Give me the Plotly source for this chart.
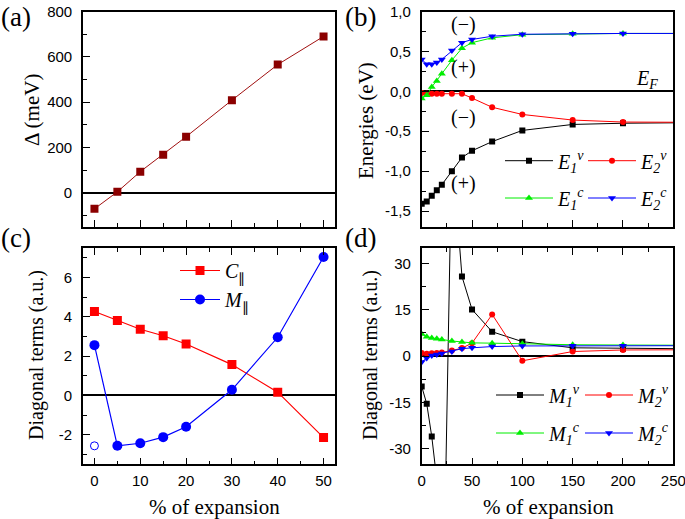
import plotly.graph_objects as go

W, H = 685, 519

# ---------------- data ----------------
# (a) gap vs expansion
a_x = [0, 5, 10, 15, 20, 30, 40, 50]
a_delta = [-70, 5, 94, 169, 248, 409, 566, 690]

# (b) energies
b_x = [0, 5, 10, 15, 20, 30, 40, 50, 70, 100, 150, 200, 300]
E1v = [-1.41, -1.38, -1.31, -1.24, -1.17, -1.0, -0.83, -0.745, -0.63, -0.49, -0.415, -0.40, -0.39]
E2v = [-0.02, -0.03, -0.03, -0.03, -0.03, -0.03, -0.03, -0.085, -0.20, -0.29, -0.36, -0.385, -0.39]
E1c = [-0.09, -0.05, 0.054, 0.13, 0.22, 0.39, 0.54, 0.61, 0.67, 0.71, 0.72, 0.725, 0.725]
E2c = [0.40, 0.34, 0.34, 0.36, 0.40, 0.51, 0.61, 0.65, 0.69, 0.715, 0.72, 0.725, 0.725]

# (c) diagonal terms
c_x = [0, 5, 10, 15, 20, 30, 40, 50]
C_par = [4.27, 3.81, 3.37, 3.04, 2.62, 1.57, 0.17, -2.14]
M_par = [2.56, -2.56, -2.43, -2.12, -1.59, 0.29, 2.96, 7.04]
M_open_x = [0]
M_open_y = [-2.56]

# (d) diagonal terms
d_x = [0, 5, 10, 15, 20, 30, 40, 50, 70, 100, 150, 200, 300]
M1v = [-9.8, -15.4, -26.0, -40.0, -107.0, 68.0, 25.8, 15.1, 7.9, 4.7, 2.7, 2.4, 2.3]
M2v = [1.0, 0.8, 0.9, 1.0, 1.2, 1.8, 2.6, 4.2, 13.5, -1.5, 1.5, 2.0, 2.1]
M1c = [7.2, 6.3, 5.9, 5.6, 5.4, 4.9, 4.6, 4.3, 4.2, 4.0, 3.7, 3.6, 3.5]
M2c = [-1.9, -0.6, 0.2, 0.55, 0.85, 1.5, 2.4, 2.7, 3.1, 3.3, 3.35, 3.4, 3.4]

# tick labels
a_yticks = [0, 200, 400, 600, 800]
a_yticktext = ["0", "200", "400", "600", "800"]
b_yticks = [-1.5, -1.0, -0.5, 0.0, 0.5, 1.0]
b_yticktext = ["-1,5", "-1,0", "-0,5", "0,0", "0,5", "1,0"]
c_xticks = [0, 10, 20, 30, 40, 50]
c_xticktext = ["0", "10", "20", "30", "40", "50"]
c_yticks = [-2, 0, 2, 4, 6]
c_yticktext = ["-2", "0", "2", "4", "6"]
d_xticks = [0, 50, 100, 150, 200, 250]
d_xticktext = ["0", "50", "100", "150", "200", "250"]
d_yticks = [-30, -15, 0, 15, 30]
d_yticktext = ["-30", "-15", "0", "15", "30"]


def px(p):
    return p / W


def py(p):
    return 1 - p / H


SERIF = "Liberation Serif"
SANS = "Liberation Sans"

fig = go.Figure()

# (a)
fig.add_trace(go.Scatter(x=a_x, y=a_delta, mode="lines+markers", xaxis="x", yaxis="y",
                         line=dict(color="#a01010", width=1),
                         marker=dict(symbol="square", size=8, color="#8b0000"),
                         showlegend=False))

# (b)
b_specs = [
    (E1v, "#000000", "square", 6, "<i>E</i><sub><i>1</i></sub><sup><i>v</i></sup>", "legend"),
    (E2v, "#ff0000", "circle", 6, "<i>E</i><sub><i>2</i></sub><sup><i>v</i></sup>", "legend2"),
    (E1c, "#00ee00", "triangle-up", 7, "<i>E</i><sub><i>1</i></sub><sup><i>c</i></sup>", "legend3"),
    (E2c, "#0000ff", "triangle-down", 7, "<i>E</i><sub><i>2</i></sub><sup><i>c</i></sup>", "legend4"),
]
for ys, col, sym, sz, name, lg in b_specs:
    fig.add_trace(go.Scatter(x=b_x, y=ys, mode="lines+markers", xaxis="x2", yaxis="y2",
                             line=dict(color=col, width=1), marker=dict(symbol=sym, size=sz, color=col),
                             name=name, legend=lg))

# (c)
fig.add_trace(go.Scatter(x=c_x, y=C_par, mode="lines+markers", xaxis="x3", yaxis="y3",
                         line=dict(color="#ff0000", width=1.2),
                         marker=dict(symbol="square", size=9, color="#ff0000"),
                         name="<i>C</i><sub>∥</sub>", legend="legend5"))
fig.add_trace(go.Scatter(x=c_x, y=M_par, mode="lines+markers", xaxis="x3", yaxis="y3",
                         line=dict(color="#0000ff", width=1.2),
                         marker=dict(symbol="circle", size=10, color="#0000ff"),
                         name="<i>M</i><sub>∥</sub>", legend="legend5"))
fig.add_trace(go.Scatter(x=M_open_x, y=M_open_y, mode="markers", xaxis="x3", yaxis="y3",
                         marker=dict(symbol="circle-open", size=8, color="#0000ff", line=dict(width=1)),
                         showlegend=False))

# (d)
d_specs = [
    (M1v, "#000000", "square", 6, "<i>M</i><sub><i>1</i></sub><sup><i>v</i></sup>", "legend6"),
    (M2v, "#ff0000", "circle", 6, "<i>M</i><sub><i>2</i></sub><sup><i>v</i></sup>", "legend7"),
    (M1c, "#00ee00", "triangle-up", 7, "<i>M</i><sub><i>1</i></sub><sup><i>c</i></sup>", "legend8"),
    (M2c, "#0000ff", "triangle-down", 7, "<i>M</i><sub><i>2</i></sub><sup><i>c</i></sup>", "legend9"),
]
for ys, col, sym, sz, name, lg in d_specs:
    fig.add_trace(go.Scatter(x=d_x, y=ys, mode="lines+markers", xaxis="x4", yaxis="y4",
                             line=dict(color=col, width=1), marker=dict(symbol=sym, size=sz, color=col),
                             name=name, legend=lg))

xa_dom = [px(83), px(335)]
xb_dom = [px(421.7), px(673.3)]
top_dom = [py(227), py(11.5)]
bot_dom = [py(464.3), py(248)]

tickfont = dict(family=SANS, size=15, color="black")


def axis(domain, rng, tickvals, ticktext, minor_dtick, mirror, show_labels=True, zeroline=False,
         anchor=None, standoff=2):
    d = dict(domain=domain, range=rng, tickmode="array", tickvals=tickvals, ticktext=ticktext,
             ticks="inside", ticklen=7, tickwidth=1.2, tickcolor="black",
             minor=dict(dtick=minor_dtick, ticks="inside", ticklen=4, tickwidth=1.2, tickcolor="black"),
             showline=True, linecolor="black", linewidth=1.6, mirror=mirror,
             showgrid=False, zeroline=zeroline, zerolinecolor="black", zerolinewidth=1.6,
             showticklabels=show_labels, tickfont=tickfont, fixedrange=True, automargin=False,
             ticklabelstandoff=standoff, ticklabeloverflow="allow")
    if anchor:
        d["anchor"] = anchor
    return d


fig.update_layout(
    width=W, height=H, margin=dict(l=0, r=0, t=0, b=0, autoexpand=False),
    paper_bgcolor="white", plot_bgcolor="white",
    xaxis=axis(xa_dom, [-2.5, 52.5], c_xticks, c_xticktext, 5, True, show_labels=False, anchor="y"),
    yaxis=axis(top_dom, [-150, 800], a_yticks, a_yticktext, 100, True, zeroline=True, anchor="x", standoff=6),
    xaxis2=axis(xb_dom, [0, 250], d_xticks, d_xticktext, 25, True, show_labels=False, anchor="y2"),
    yaxis2=axis(top_dom, [-1.7, 1.0], b_yticks, b_yticktext, 0.25, True, zeroline=True, anchor="x2", standoff=6),
    xaxis3=axis(xa_dom, [-2.5, 52.5], c_xticks, c_xticktext, 5, "ticks", anchor="y3"),
    yaxis3=axis(bot_dom, [-3.5, 7.5], c_yticks, c_yticktext, 1, True, zeroline=True, anchor="x3", standoff=6),
    xaxis4=axis(xb_dom, [0, 250], d_xticks, d_xticktext, 25, "ticks", anchor="y4"),
    yaxis4=axis(bot_dom, [-35, 35], d_yticks, d_yticktext, 7.5, True, zeroline=True, anchor="x4", standoff=6),
)

legfont = dict(family=SERIF, size=20, color="black")
common_leg = dict(orientation="h", bgcolor="rgba(0,0,0,0)", font=legfont, xanchor="left", yanchor="middle",
                  itemwidth=48, tracegroupgap=0)
fig.update_layout(
    legend=dict(x=px(500), y=py(160.7), **common_leg),
    legend2=dict(x=px(583), y=py(160.7), **common_leg),
    legend3=dict(x=px(500), y=py(198), **common_leg),
    legend4=dict(x=px(583), y=py(198), **common_leg),
    legend5=dict(x=px(175), y=py(285), bgcolor="rgba(0,0,0,0)", font=legfont, xanchor="left",
                 yanchor="middle", orientation="v", itemwidth=40, tracegroupgap=0),
    legend6=dict(x=px(491), y=py(395), **common_leg),
    legend7=dict(x=px(580), y=py(395), **common_leg),
    legend8=dict(x=px(491), y=py(433), **common_leg),
    legend9=dict(x=px(580), y=py(433), **common_leg),
)

ann = []


def text(x, y, s, size, angle=0, family=SERIF):
    ann.append(dict(x=px(x), y=py(y), xref="paper", yref="paper", text=s, showarrow=False,
                    font=dict(family=family, size=size, color="black"), textangle=angle,
                    xanchor="center", yanchor="middle"))


# panel labels
text(16, 17, "(a)", 27)
text(361, 17, "(b)", 27)
text(16, 238, "(c)", 27)
text(361, 238, "(d)", 27)
# axis titles
text(32, 110, "Δ (meV)", 21, -90)
text(366, 120, "Energies (eV)", 21, -90)
text(36, 355, "Diagonal terms (a.u.)", 20, -90)
text(370, 355, "Diagonal terms (a.u.)", 20, -90)
text(214, 507, "% of expansion", 21)
text(548, 507, "% of expansion", 21)
# (b) annotations
text(463, 25, "(−)", 20)
text(463, 68, "(+)", 20)
text(463, 117, "(−)", 20)
text(463, 183, "(+)", 20)
text(647, 80, "<i>E</i><sub><i>F</i></sub>", 20)
fig.update_layout(annotations=ann)

fig.write_html("out.html", config={"displayModeBar": False},
               post_script="document.body.style.margin='0';document.body.style.overflow='hidden';")
